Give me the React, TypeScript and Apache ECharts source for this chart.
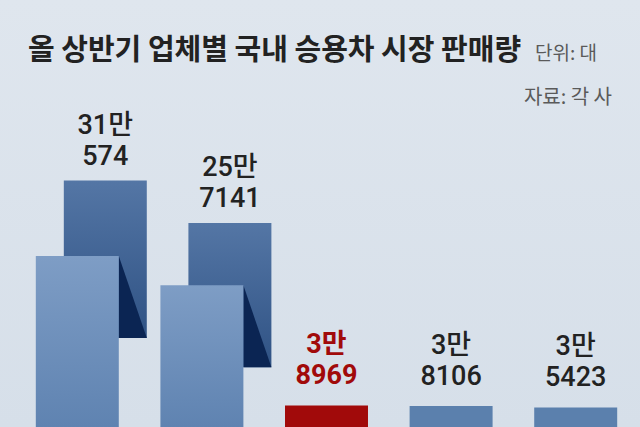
import React, { useEffect, useRef } from 'react';
import * as echarts from 'echarts';

// 업체 이름은 원본 이미지에서 잘려 보이지 않음
const categories = ['A사', 'B사', 'C사', 'D사', 'E사'];
const sales = [310574, 257141, 38969, 38106, 35423];
const highlightIndex = 2;
const foldedBars = [0, 1];

const FONT = '"Noto Sans CJK KR", "Noto Sans", sans-serif';
const LABEL_FONT = 'Roboto, "Noto Sans CJK KR", sans-serif';

const manPart = (v: number) => Math.floor(v / 10000) + '만';
const restPart = (v: number) => String(v % 10000);

const App: React.FC = () => {
  const chartRef = useRef<HTMLDivElement>(null);

  useEffect(() => {
    if (!chartRef.current) return;
    const chart = echarts.init(chartRef.current, null, { renderer: 'svg' });

    const frontGrad = new echarts.graphic.LinearGradient(0, 0, 0, 1, [
      { offset: 0, color: '#7e9dc5' },
      { offset: 1, color: '#5f83b1' }
    ]);
    const backGrad = new echarts.graphic.LinearGradient(0, 0, 0, 1, [
      { offset: 0, color: '#5476a5' },
      { offset: 1, color: '#2f5284' }
    ]);

    const renderItem = (params: any, api: any) => {
      const i = api.value(0);
      const v = api.value(1);
      const top = api.coord([i, v]);
      const base = api.coord([i, 0]);
      const w = api.size([1, 0])[0] * 0.666;
      const x0 = top[0] - w / 2;
      const children: any[] = [];
      const isRed = i === highlightIndex;
      let labelX = top[0];
      let labelBottom = top[1] - 17;

      if (foldedBars.indexOf(i) >= 0) {
        const dx = 28;
        const slabTop = top[1] - 0.44 * (base[1] - top[1]);
        const slabBottom = top[1] + 82;
        children.push({
          type: 'rect',
          shape: { x: x0 + dx, y: slabTop, width: w, height: slabBottom - slabTop },
          style: { fill: backGrad }
        });
        children.push({
          type: 'polygon',
          shape: {
            points: [
              [x0 + w, top[1]],
              [x0 + w + dx, slabBottom],
              [x0 + w, slabBottom]
            ]
          },
          style: { fill: '#0b2553' }
        });
        labelX = top[0] + dx;
        labelBottom = slabTop - 11;
      }

      children.push({
        type: 'rect',
        shape: { x: x0, y: top[1], width: w, height: base[1] - top[1] },
        style: {
          fill: isRed ? '#a10a0a' : foldedBars.indexOf(i) >= 0 ? frontGrad : '#5b80ad'
        }
      });

      const textStyle = {
        textAlign: 'center',
        textVerticalAlign: 'bottom',
        fontFamily: LABEL_FONT,
        fontSize: 27,
        fontWeight: isRed ? 'bold' : 500,
        fill: isRed ? '#a10a0a' : '#222222'
      };
      children.push({
        type: 'text',
        style: { ...textStyle, text: restPart(v), x: labelX, y: labelBottom }
      });
      children.push({
        type: 'text',
        style: { ...textStyle, text: manPart(v), x: labelX, y: labelBottom - 31 }
      });

      return { type: 'group', children };
    };

    const option = {
      animation: false,
      backgroundColor: new echarts.graphic.LinearGradient(0, 0, 0, 1, [
        { offset: 0, color: '#dfe6ee' },
        { offset: 1, color: '#d6dfe9' }
      ]),
      grid: { left: 15, right: 2, top: 0, bottom: -4 },
      xAxis: { type: 'category', data: categories, show: false },
      yAxis: { type: 'value', min: 0, max: 775000, show: false },
      graphic: [
        {
          type: 'text',
          left: 28,
          top: 32,
          style: {
            text: '올 상반기 업체별 국내 승용차 시장 판매량',
            fontFamily: FONT,
            fontSize: 29,
            fontWeight: 'bold',
            fill: '#222222'
          }
        },
        {
          type: 'text',
          left: 535,
          top: 42,
          style: {
            text: '단위: 대',
            fontFamily: FONT,
            fontSize: 19,
            fill: '#5a5a5a'
          }
        },
        {
          type: 'text',
          right: 28,
          top: 85,
          style: {
            text: '자료: 각 사',
            fontFamily: FONT,
            fontSize: 20,
            fill: '#5a5a5a'
          }
        }
      ],
      series: [
        {
          type: 'custom',
          renderItem,
          clip: false,
          data: sales.map((v, i) => [i, v])
        }
      ]
    };

    chart.setOption(option as any);
    return () => {
      chart.dispose();
    };
  }, []);

  return (
    <div
      ref={chartRef}
      style={{ position: 'absolute', left: 0, top: 0, width: '640px', height: '427px' }}
    ></div>
  );
};

export default App;
